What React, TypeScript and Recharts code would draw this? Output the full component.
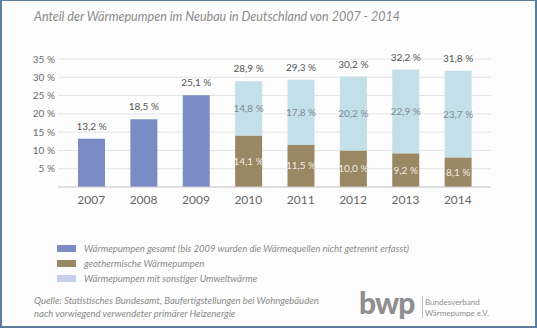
import { Bar, BarChart, CartesianGrid, LabelList, XAxis, YAxis } from "recharts";

const years = ["2007", "2008", "2009", "2010", "2011", "2012", "2013", "2014"];
const gesamt = [13.2, 18.5, 25.1, null, null, null, null, null];
const geothermie = [null, null, null, 14.1, 11.5, 10.0, 9.2, 8.1];
const sonstige = [null, null, null, 14.8, 17.8, 20.2, 22.9, 23.7];
const totals = [13.2, 18.5, 25.1, 28.9, 29.3, 30.2, 32.2, 31.8];
const yTicks = [0, 5, 10, 15, 20, 25, 30, 35];

const data = years.map((y, i) => ({
  year: y,
  gesamt: gesamt[i],
  geo: geothermie[i],
  sonst: sonstige[i],
  total: totals[i],
}));

const FONT = "Lato, 'Open Sans', sans-serif";
const fmt = (v: number) => v.toFixed(1).replace(".", ",") + " %";

const BLUE = "#7b8bc6";
const BROWN = "#9a8764";
const LIGHT = "#c3dfe8";

const topOfSonst = (d: any) => (d.sonst == null ? null : d.total);

function TopLabel(props: any) {
  const { x, y, width, value } = props;
  if (value == null) return null;
  return (
    <text x={x + width / 2} y={y - 9} textAnchor="middle" fontSize={10} fill="#555" fontFamily={FONT}>
      {fmt(value)}
    </text>
  );
}

function MidLabel(color: string) {
  return (props: any) => {
    const { x, y, width, height, value } = props;
    if (value == null) return null;
    return (
      <text
        x={x + width / 2}
        y={y + height / 2 + 3.5}
        textAnchor="middle"
        fontSize={10}
        fill={color}
        fontFamily={FONT}
      >
        {fmt(value)}
      </text>
    );
  };
}

function YTick({ x, y, payload }: any) {
  if (payload.value === 0) return null;
  return (
    <text x={x} y={y + 3.5} textAnchor="end" fontSize={10} fill="#6a6a6a" fontFamily={FONT}>
      {payload.value} %
    </text>
  );
}

const legend = [
  { color: BLUE, label: "Wärmepumpen gesamt (bis 2009 wurden die Wärmequellen nicht getrennt erfasst)" },
  { color: BROWN, label: "geothermische Wärmepumpen" },
  { color: "#c6cfeb", label: "Wärmepumpen mit sonstiger Umweltwärme" },
];

export default function App() {
  return (
    <div
      style={{
        position: "fixed",
        left: 0,
        top: 0,
        width: 537,
        height: 328,
        boxSizing: "border-box",
        border: "2px solid #5a7e9c",
        borderTopWidth: 1,
        background: "#fdfdfd",
        fontFamily: FONT,
        overflow: "hidden",
      }}
    >
      <div
        style={{
          position: "absolute",
          left: 32,
          top: 8,
          fontSize: 12.5,
          fontStyle: "italic",
          color: "#8a8a8a",
          whiteSpace: "nowrap",
        }}
      >
        Anteil der Wärmepumpen im Neubau in Deutschland von 2007 - 2014
      </div>
      <div style={{ position: "absolute", left: -2, top: -1 }}>
        <BarChart width={537} height={328} data={data} margin={{ top: 59, right: 46, bottom: 111, left: 0 }}>
          <CartesianGrid vertical={false} stroke="#e4e4e4" />
          <XAxis
            dataKey="year"
            padding={{ left: 7, right: 7 }}
            tickLine={false}
            axisLine={{ stroke: "#cfcfcf" }}
            tick={{ fill: "#666", fontSize: 12, fontFamily: FONT }}
            tickMargin={2}
            interval={0}
          />
          <YAxis
            width={58}
            domain={[0, 35]}
            ticks={yTicks}
            interval={0}
            axisLine={false}
            tickLine={false}
            tickSize={0}
            tickMargin={3}
            tick={<YTick />}
          />
          <Bar dataKey="gesamt" stackId="a" fill={BLUE} barSize={27} isAnimationActive={false}>
            <LabelList dataKey="gesamt" content={TopLabel} />
          </Bar>
          <Bar dataKey="geo" stackId="a" fill={BROWN} barSize={27} isAnimationActive={false}>
            <LabelList dataKey="geo" content={MidLabel("#f2ece0")} />
          </Bar>
          <Bar dataKey="sonst" stackId="a" fill={LIGHT} barSize={27} isAnimationActive={false}>
            <LabelList dataKey="sonst" content={MidLabel("#7d8c93")} />
            <LabelList dataKey={topOfSonst} content={TopLabel} />
          </Bar>
        </BarChart>
      </div>
      {legend.map((l, i) => (
        <div key={l.label} style={{ position: "absolute", left: 55, top: 242 + i * 15, display: "flex", alignItems: "center" }}>
          <span style={{ width: 19, height: 7, background: l.color, display: "inline-block" }} />
          <span style={{ marginLeft: 8, fontSize: 9.5, fontStyle: "italic", color: "#8a8a8a", whiteSpace: "nowrap" }}>
            {l.label}
          </span>
        </div>
      ))}
      <div
        style={{
          position: "absolute",
          left: 32,
          top: 294,
          fontSize: 9.5,
          lineHeight: "12.5px",
          fontStyle: "italic",
          color: "#8a8a8a",
          whiteSpace: "nowrap",
        }}
      >
        Quelle: Statistisches Bundesamt, Baufertigstellungen bei Wohngebäuden
        <br />
        nach vorwiegend verwendeter primärer Heizenergie
      </div>
      <div
        style={{
          position: "absolute",
          left: 357,
          top: 286,
          fontSize: 30,
          fontWeight: 900,
          color: "#8f8f8f",
          letterSpacing: -1,
          lineHeight: "30px",
        }}
      >
        bwp
      </div>
      <div style={{ position: "absolute", left: 420, top: 295, width: 1, height: 22, background: "#bbb" }} />
      <div
        style={{
          position: "absolute",
          left: 423,
          top: 296,
          fontSize: 8,
          lineHeight: "11px",
          color: "#8f8f8f",
          whiteSpace: "nowrap",
        }}
      >
        Bundesverband
        <br />
        Wärmepumpe e.V.
      </div>
    </div>
  );
}
